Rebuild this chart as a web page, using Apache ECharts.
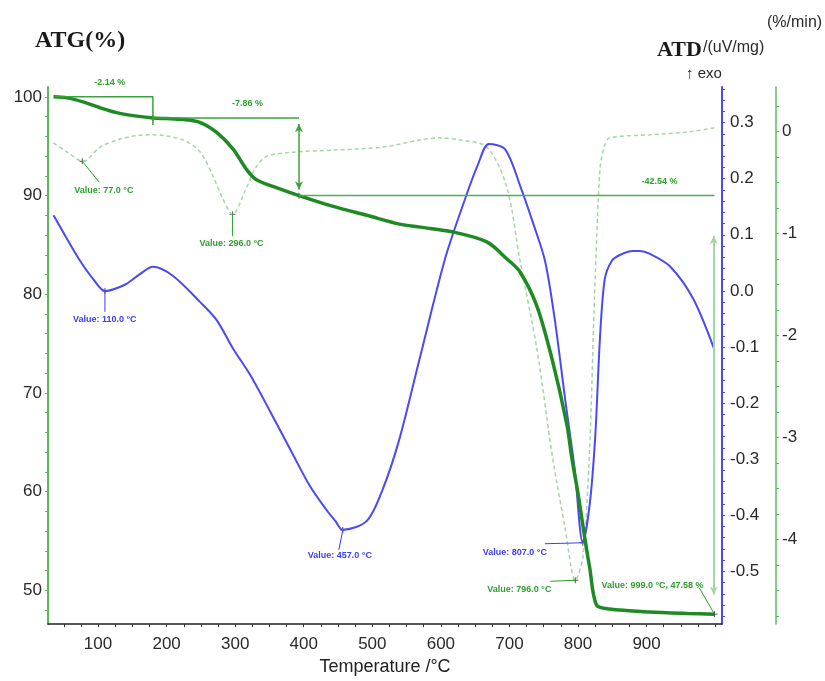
<!DOCTYPE html>
<html>
<head>
<meta charset="utf-8">
<script src="https://cdn.jsdelivr.net/npm/echarts@6/dist/echarts.min.js"></script>
<style>
  html, body { margin: 0; padding: 0; background: #fff; }
  #chart { width: 825px; height: 681px; }
</style>
</head>
<body>
<div id="chart"></div>
<script>
// ---- Thermogravimetric curve (ATG, %) ----
const tgTemp = [35, 55, 78, 103, 127, 151, 180, 200, 224, 249, 273, 297, 317, 331, 360, 393, 443, 492, 540, 570, 618, 667, 696, 715, 740, 763, 784, 791, 800, 811, 817, 827, 846, 904, 960, 999];
const tgMass = [100.0, 99.9, 99.5, 98.9, 98.4, 98.1, 97.86, 97.8, 97.7, 97.4, 96.4, 94.7, 92.6, 91.6, 90.8, 90.0, 88.9, 88.0, 87.1, 86.8, 86.3, 85.3, 83.6, 82.3, 78.8, 73.2, 66.7, 63.4, 59.8, 54.8, 52.3, 48.5, 48.1, 47.8, 47.65, 47.58];

// ---- Differential thermal curve (ATD, uV/mg) ----
const dtaTemp = [35, 55, 72, 93, 110, 139, 161, 180, 209, 249, 273, 297, 322, 351, 380, 409, 431, 446, 457, 492, 516, 540, 569, 606, 635, 654, 670, 694, 716, 735, 752, 766, 781, 795, 807, 817, 825, 832, 839, 849, 861, 880, 890, 905, 934, 968, 999];
const dtaSignal = [0.135, 0.092, 0.057, 0.021, 0.0, 0.011, 0.030, 0.043, 0.027, -0.020, -0.052, -0.103, -0.150, -0.215, -0.282, -0.348, -0.387, -0.410, -0.426, -0.410, -0.351, -0.262, -0.121, 0.057, 0.163, 0.225, 0.262, 0.252, 0.186, 0.119, 0.053, -0.050, -0.191, -0.316, -0.449, -0.381, -0.262, -0.085, 0.021, 0.053, 0.064, 0.071, 0.071, 0.066, 0.044, -0.014, -0.105];

// ---- Derivative mass curve (DTG, %/min) ----
const dtgTemp = [35, 55, 78, 103, 128, 154, 180, 224, 249, 268, 282, 296, 317, 331, 346, 385, 443, 516, 570, 598, 627, 667, 696, 715, 740, 763, 781, 796, 807, 817, 824, 832, 839, 846, 905, 963, 999];
const dtgRate = [-0.11, -0.20, -0.29, -0.15, -0.08, -0.04, -0.03, -0.08, -0.20, -0.44, -0.66, -0.81, -0.54, -0.34, -0.24, -0.20, -0.18, -0.15, -0.08, -0.06, -0.08, -0.15, -0.54, -1.25, -2.13, -3.20, -3.88, -4.40, -4.18, -3.10, -1.64, -0.37, -0.13, -0.06, -0.03, 0.00, 0.04];

// ---- Axis tick labels ----
const tempLabels = [100, 200, 300, 400, 500, 600, 700, 800, 900];
const atgLabels = [50, 60, 70, 80, 90, 100];
const atdLabels = [-0.5, -0.4, -0.3, -0.2, -0.1, 0.0, 0.1, 0.2, 0.3];
const dtgLabels = [-4, -3, -2, -1, 0];

// ---- Mass-loss steps ----
const stepTemps = [37, 180, 393, 999];
const stepLevels = [100, 97.86, 90.0, 47.58];
const stepTexts = ['-2.14 %', '-7.86 %', '-42.54 %'];
const stepTextTemps = [117, 318, 919];

// ---- Peak readouts ----
const peakTemps = [77.0, 296.0, 110.0, 457.0, 807.0, 796.0];
const peakValues = [-0.29, -0.81, 0.0, -0.426, -0.449, -4.40];
const peakAxis = [2, 2, 1, 1, 1, 2];
const finalTemp = 999.0;
const finalMass = 47.58;

const GREEN = '#1f8a24';
const STEP_GREEN = '#3aa23a';
const LIGHT_GREEN = '#a3d6a3';
const BLUE = '#4a4af5';
const NARROW = "'Liberation Sans Narrow', 'Liberation Sans', Arial, sans-serif";

function pairs(xs, ys) { return xs.map((x, i) => [x, ys[i]]); }
function steps(from, to, step) {
  const out = [];
  for (let v = from; v <= to + 1e-9; v += step) out.push(+v.toFixed(4));
  return out;
}

const chart = echarts.init(document.getElementById('chart'), null, { renderer: 'canvas' });

const axisLabelStyle = { color: '#2a2a2a', fontSize: 17, fontFamily: NARROW };

const option = {
  animation: false,
  backgroundColor: '#fff',
  grid: { left: 48, right: 103, top: 87, bottom: 54 },
  xAxis: {
    type: 'value', min: 27, max: 1010,
    name: 'Temperature /°C', nameLocation: 'middle', nameGap: 33,
    nameTextStyle: { color: '#222', fontSize: 18, fontFamily: NARROW },
    axisLine: { show: true, onZero: false, lineStyle: { color: '#222', width: 1.5 } },
    axisTick: { show: true, customValues: steps(50, 1000, 25), length: 3, lineStyle: { color: '#333' } },
    axisLabel: Object.assign({ customValues: tempLabels, margin: 12 }, axisLabelStyle),
    splitLine: { show: false }
  },
  yAxis: [
    {
      type: 'value', min: 46.57, max: 101.0, position: 'left',
      axisLine: { show: true, onZero: false, lineStyle: { color: '#5cb85c', width: 2 } },
      axisTick: { show: true, customValues: steps(48, 100, 2), length: 3, lineStyle: { color: '#5cb85c' } },
      axisLabel: Object.assign({ customValues: atgLabels, margin: 6 }, axisLabelStyle),
      splitLine: { show: false }
    },
    {
      type: 'value', min: -0.594, max: 0.3635, position: 'right', offset: 0,
      axisLine: { show: true, onZero: false, lineStyle: { color: BLUE, width: 2 } },
      axisTick: { show: true, customValues: steps(-0.58, 0.36, 0.02), length: 3, lineStyle: { color: BLUE } },
      axisLabel: Object.assign({ customValues: atdLabels, margin: 8, formatter: v => v.toFixed(1) }, axisLabelStyle),
      splitLine: { show: false }
    },
    {
      type: 'value', min: -4.83, max: 0.439, position: 'right', offset: 54,
      axisLine: { show: true, onZero: false, lineStyle: { color: '#5cb85c', width: 1.5 } },
      axisTick: { show: true, customValues: steps(-4.75, 0.25, 0.25), length: 3, lineStyle: { color: '#5cb85c' } },
      axisLabel: Object.assign({ customValues: dtgLabels, margin: 6 }, axisLabelStyle),
      splitLine: { show: false }
    }
  ],
  series: [
    {
      name: 'DTG', type: 'line', yAxisIndex: 2, data: pairs(dtgTemp, dtgRate),
      showSymbol: false, smooth: 0.3, z: 2,
      lineStyle: { color: LIGHT_GREEN, width: 1.5, type: [4, 3] }
    },
    {
      name: 'ATD', type: 'line', yAxisIndex: 1, data: pairs(dtaTemp, dtaSignal),
      showSymbol: false, smooth: 0.3, z: 3,
      lineStyle: { color: BLUE, width: 2 }
    },
    {
      name: 'ATG', type: 'line', yAxisIndex: 0, data: pairs(tgTemp, tgMass),
      showSymbol: false, smooth: 0.3, z: 4,
      lineStyle: { color: GREEN, width: 3.5 }
    },
    // first mass-loss step bracket
    {
      type: 'line', yAxisIndex: 0, showSymbol: false, z: 5, silent: true,
      data: [[stepTemps[0], stepLevels[0]], [stepTemps[1], stepLevels[0]], [stepTemps[1], stepLevels[1] - 0.7]],
      lineStyle: { color: STEP_GREEN, width: 1.5 }
    },
    // second step baseline and its height arrow
    {
      type: 'line', yAxisIndex: 0, showSymbol: false, z: 5, silent: true,
      data: [[stepTemps[1], stepLevels[1]], [stepTemps[2], stepLevels[1]]],
      lineStyle: { color: STEP_GREEN, width: 1.5 },
      markLine: {
        silent: true, symbol: ['arrow', 'arrow'], symbolSize: [6, 8], label: { show: false },
        lineStyle: { color: STEP_GREEN, width: 1.5, type: 'solid' },
        data: [[{ coord: [stepTemps[2], stepLevels[1] - 0.6] }, { coord: [stepTemps[2], stepLevels[2] + 0.6] }]]
      }
    },
    // third step baseline and its height arrow
    {
      type: 'line', yAxisIndex: 0, showSymbol: false, z: 5, silent: true,
      data: [[stepTemps[2], stepLevels[2]], [stepTemps[3], stepLevels[2]]],
      lineStyle: { color: '#4caf50', width: 1.5 },
      markLine: {
        silent: true, symbol: ['arrow', 'arrow'], symbolSize: [6, 8], label: { show: false },
        lineStyle: { color: LIGHT_GREEN, width: 2, type: 'solid' },
        data: [[{ coord: [stepTemps[3] - 1, stepLevels[2] - 4.1] }, { coord: [stepTemps[3] - 1, stepLevels[3] + 2.0] }]]
      }
    }
  ]
};

chart.setOption(option);

// ---- Text, readouts and leader lines, placed through the chart's own scales ----
function px(axis, pt) { return chart.convertToPixel({ xAxisIndex: 0, yAxisIndex: axis }, pt); }

const readoutLayout = [
  { lead: [17, 21], text: [-8, 29] },
  { lead: [0, 22], text: [-33, 29] },
  { lead: [0, 21], text: [-32, 29] },
  { lead: [-4, 20], text: [-35, 26] },
  { lead: [-38, 1], text: [-100, 10] },
  { lead: [-25, 1], text: [-88, 9] }
];
const finalLayout = { lead: [-15, -26], text: [-113, -29] };

const graphics = [];

function cross(p) {
  graphics.push({
    type: 'group', x: p[0], y: p[1], z: 20, silent: true,
    children: [
      { type: 'line', shape: { x1: -3, y1: 0, x2: 3, y2: 0 }, style: { stroke: '#555', lineWidth: 1 } },
      { type: 'line', shape: { x1: 0, y1: -3, x2: 0, y2: 3 }, style: { stroke: '#555', lineWidth: 1 } }
    ]
  });
}
function readout(p, layout, text, color) {
  cross(p);
  graphics.push({
    type: 'line', z: 19, silent: true,
    shape: { x1: p[0], y1: p[1], x2: p[0] + layout.lead[0], y2: p[1] + layout.lead[1] },
    style: { stroke: color, lineWidth: 1 }
  });
  graphics.push({
    type: 'text', z: 20, silent: true, x: p[0] + layout.text[0], y: p[1] + layout.text[1],
    style: { text: text, fill: color, font: 'bold 9px ' + NARROW, textAlign: 'left', textVerticalAlign: 'middle' }
  });
}

peakTemps.forEach((t, i) => {
  const color = peakAxis[i] === 1 ? '#3c3cff' : '#2e9e2e';
  readout(px(peakAxis[i], [t, peakValues[i]]), readoutLayout[i], 'Value: ' + t.toFixed(1) + ' °C', color);
});
readout(px(0, [finalTemp, finalMass]), finalLayout,
  'Value: ' + finalTemp.toFixed(1) + ' °C, ' + finalMass.toFixed(2) + ' %', '#2e9e2e');

// step crossings and loss labels
cross(px(0, [stepTemps[1], stepLevels[1]]));
cross(px(0, [stepTemps[2], stepLevels[2]]));
stepTexts.forEach((txt, i) => {
  const p = px(0, [stepTextTemps[i], stepLevels[i]]);
  graphics.push({
    type: 'text', z: 20, silent: true, x: p[0], y: p[1] - 14,
    style: { text: txt, fill: '#2e9e2e', font: 'bold 9px ' + NARROW, textAlign: 'center', textVerticalAlign: 'middle' }
  });
});

// axis titles
graphics.push(
  { type: 'text', left: 35, top: 29, silent: true,
    style: { text: 'ATG(%)', fill: '#1a1a1a', font: "bold 24px 'Liberation Serif', 'Times New Roman', serif" } },
  { type: 'text', left: 657, top: 39, silent: true,
    style: { text: 'ATD', fill: '#1a1a1a', font: "bold 22px 'Liberation Serif', 'Times New Roman', serif" } },
  { type: 'text', left: 703, top: 40, silent: true,
    style: { text: '/(uV/mg)', fill: '#2a2a2a', font: '16px ' + NARROW } },
  { type: 'text', left: 686, top: 66, silent: true,
    style: { text: '↑ exo', fill: '#2a2a2a', font: '15px ' + NARROW } },
  { type: 'text', left: 767, top: 15, silent: true,
    style: { text: '(%/min)', fill: '#2a2a2a', font: '16px ' + NARROW } }
);

chart.setOption({ graphic: graphics });
</script>
</body>
</html>
